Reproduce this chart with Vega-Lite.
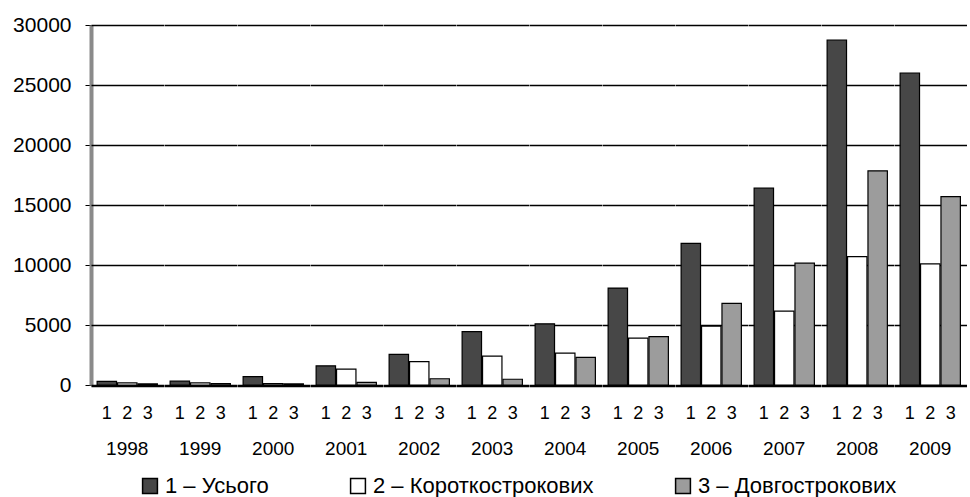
{
  "$schema": "https://vega.github.io/schema/vega-lite/v6.json",
  "padding": {"top": 14, "left": 12, "right": 4, "bottom": 2},
  "background": "white",
  "data": {"values": [
    {"year": "1998", "series": "1", "name": "1 – Усього", "value": 300},
    {"year": "1998", "series": "2", "name": "2 – Короткострокових", "value": 170},
    {"year": "1998", "series": "3", "name": "3 – Довгострокових", "value": 90},
    {"year": "1999", "series": "1", "name": "1 – Усього", "value": 320},
    {"year": "1999", "series": "2", "name": "2 – Короткострокових", "value": 180},
    {"year": "1999", "series": "3", "name": "3 – Довгострокових", "value": 110},
    {"year": "2000", "series": "1", "name": "1 – Усього", "value": 700},
    {"year": "2000", "series": "2", "name": "2 – Короткострокових", "value": 110},
    {"year": "2000", "series": "3", "name": "3 – Довгострокових", "value": 90},
    {"year": "2001", "series": "1", "name": "1 – Усього", "value": 1600},
    {"year": "2001", "series": "2", "name": "2 – Короткострокових", "value": 1330},
    {"year": "2001", "series": "3", "name": "3 – Довгострокових", "value": 220},
    {"year": "2002", "series": "1", "name": "1 – Усього", "value": 2550},
    {"year": "2002", "series": "2", "name": "2 – Короткострокових", "value": 1950},
    {"year": "2002", "series": "3", "name": "3 – Довгострокових", "value": 520},
    {"year": "2003", "series": "1", "name": "1 – Усього", "value": 4450},
    {"year": "2003", "series": "2", "name": "2 – Короткострокових", "value": 2400},
    {"year": "2003", "series": "3", "name": "3 – Довгострокових", "value": 480},
    {"year": "2004", "series": "1", "name": "1 – Усього", "value": 5100},
    {"year": "2004", "series": "2", "name": "2 – Короткострокових", "value": 2650},
    {"year": "2004", "series": "3", "name": "3 – Довгострокових", "value": 2300},
    {"year": "2005", "series": "1", "name": "1 – Усього", "value": 8080},
    {"year": "2005", "series": "2", "name": "2 – Короткострокових", "value": 3900},
    {"year": "2005", "series": "3", "name": "3 – Довгострокових", "value": 4030},
    {"year": "2006", "series": "1", "name": "1 – Усього", "value": 11800},
    {"year": "2006", "series": "2", "name": "2 – Короткострокових", "value": 4900},
    {"year": "2006", "series": "3", "name": "3 – Довгострокових", "value": 6800},
    {"year": "2007", "series": "1", "name": "1 – Усього", "value": 16400},
    {"year": "2007", "series": "2", "name": "2 – Короткострокових", "value": 6150},
    {"year": "2007", "series": "3", "name": "3 – Довгострокових", "value": 10150},
    {"year": "2008", "series": "1", "name": "1 – Усього", "value": 28750},
    {"year": "2008", "series": "2", "name": "2 – Короткострокових", "value": 10700},
    {"year": "2008", "series": "3", "name": "3 – Довгострокових", "value": 17850},
    {"year": "2009", "series": "1", "name": "1 – Усього", "value": 26000},
    {"year": "2009", "series": "2", "name": "2 – Короткострокових", "value": 10100},
    {"year": "2009", "series": "3", "name": "3 – Довгострокових", "value": 15700}
  ]},
  "spacing": 0,
  "facet": {
    "column": {
      "field": "year",
      "type": "ordinal",
      "title": null,
      "header": {
        "labelOrient": "bottom",
        "labelFontSize": 19,
        "labelFont": "Liberation Sans",
        "labelColor": "black",
        "labelPadding": 18
      }
    }
  },
  "spec": {
    "width": 72.5,
    "height": 360,
    "mark": {"type": "bar", "stroke": "black", "strokeWidth": 1.2},
    "encoding": {
      "x": {
        "field": "series",
        "type": "ordinal",
        "scale": {"paddingInner": 0.05, "paddingOuter": 0.3},
        "axis": {
          "title": null,
          "labelAngle": 0,
          "labelFontSize": 18,
          "labelFont": "Liberation Sans",
          "labelColor": "black",
          "ticks": false,
          "labelPadding": 18,
          "domainColor": "black",
          "domainWidth": 1.5
        }
      },
      "y": {
        "field": "value",
        "type": "quantitative",
        "scale": {"domain": [0, 30000], "nice": false},
        "axis": {
          "title": null,
          "values": [0, 5000, 10000, 15000, 20000, 25000, 30000],
          "format": "d",
          "labelFontSize": 21,
          "labelFont": "Liberation Sans",
          "labelColor": "black",
          "labelPadding": 14,
          "tickColor": "black",
          "tickSize": 6,
          "domainColor": "#8a8a8a",
          "domainWidth": 4,
          "gridColor": "black",
          "gridWidth": 1.6
        }
      },
      "color": {
        "field": "name",
        "type": "nominal",
        "scale": {
          "domain": ["1 – Усього", "2 – Короткострокових", "3 – Довгострокових"],
          "range": ["#474747", "#ffffff", "#9c9c9c"]
        },
        "legend": {
          "title": null,
          "orient": "none",
          "legendX": 48,
          "legendY": 450,
          "direction": "horizontal",
          "labelFontSize": 22,
          "labelFont": "Liberation Sans",
          "labelColor": "black",
          "symbolType": "square",
          "symbolSize": 220,
          "symbolStrokeColor": "black",
          "symbolStrokeWidth": 1.5,
          "columnPadding": 78,
          "labelLimit": 400
        }
      }
    }
  },
  "config": {
    "view": {"stroke": null},
    "font": "Liberation Sans"
  }
}
